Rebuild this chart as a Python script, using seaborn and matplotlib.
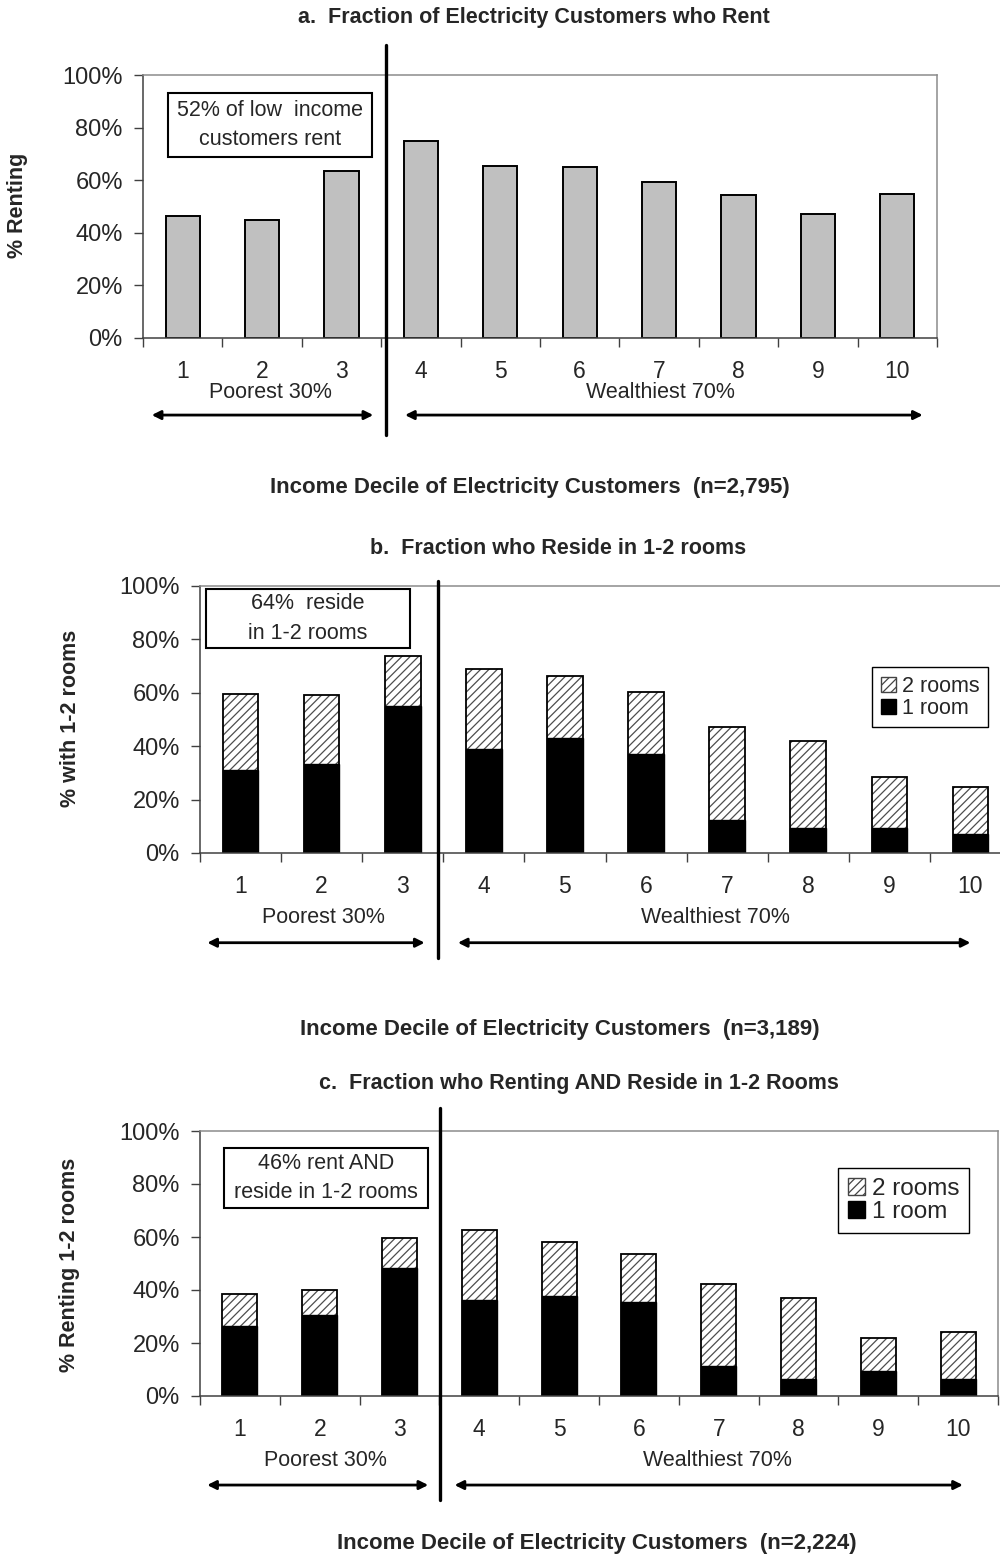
import numpy as np
import pandas as pd
import matplotlib
matplotlib.use("Agg")
import matplotlib.pyplot as plt
import seaborn as sns
from matplotlib.patches import Patch, Rectangle

# ---------------- data ----------------
deciles = ["1", "2", "3", "4", "5", "6", "7", "8", "9", "10"]
rent_pct = [46.4, 44.9, 63.4, 74.8, 65.5, 64.9, 59.4, 54.2, 47.3, 54.8]
rooms_one = [31.0, 33.2, 55.0, 39.1, 42.9, 36.9, 12.3, 9.2, 9.2, 7.1]
rooms_total = [59.7, 59.0, 73.9, 68.8, 66.4, 60.4, 47.1, 41.8, 28.5, 24.8]
rentrooms_one = [26.6, 30.4, 48.4, 36.4, 37.9, 35.6, 11.5, 6.3, 9.4, 6.3]
rentrooms_total = [38.5, 40.0, 59.5, 62.5, 58.1, 53.4, 42.3, 37.0, 21.8, 24.1]
ytick_vals = [0, 20, 40, 60, 80, 100]
ytick_labels = ["0%", "20%", "40%", "60%", "80%", "100%"]

titles = ["a.  Fraction of Electricity Customers who Rent",
          "b.  Fraction who Reside in 1-2 rooms",
          "c.  Fraction who Renting AND Reside in 1-2 Rooms"]
ylabels = ["% Renting", "% with 1-2 rooms", "% Renting 1-2 rooms"]
xlabels = ["Income Decile of Electricity Customers  (n=2,795)",
           "Income Decile of Electricity Customers  (n=3,189)",
           "Income Decile of Electricity Customers  (n=2,224)"]
notes = ["52% of low  income\ncustomers rent",
         "64%  reside\nin 1-2 rooms",
         "46% rent AND\nreside in 1-2 rooms"]
group_labels = ["Poorest 30%", "Wealthiest 70%"]
legend_labels = ["2 rooms", "1 room"]

# ---------------- style ----------------
sns.set_theme(style="white")
plt.rcParams["font.family"] = ["Liberation Sans", "DejaVu Sans"]
plt.rcParams["hatch.linewidth"] = 0.9

W, H = 1000, 1556
fig = plt.figure(figsize=(W / 100, H / 100), dpi=100)
fig.patch.set_facecolor("white")


def px_rect(l, t, r, b):
    return [l / W, 1 - b / H, (r - l) / W, (b - t) / H]


def fx(x):
    return x / W


def fy(y):
    return 1 - y / H


axes_px = [(143, 75, 937, 338), (200, 586, 1011, 853), (200, 1131, 998, 1396)]
axs = [fig.add_axes(px_rect(*p)) for p in axes_px]

df_a = pd.DataFrame({"decile": deciles, "pct": rent_pct})
df_b = pd.DataFrame({"decile": deciles, "one": rooms_one, "total": rooms_total})
df_c = pd.DataFrame({"decile": deciles, "one": rentrooms_one, "total": rentrooms_total})

# panel a
sns.barplot(data=df_a, x="decile", y="pct", ax=axs[0], color="#C0C0C0",
            saturation=1, edgecolor="black", linewidth=1.4, width=0.43,
            errorbar=None)

# panels b & c: stacked hatched + black
for ax, df, w in [(axs[1], df_b, 0.44), (axs[2], df_c, 0.44)]:
    sns.barplot(data=df, x="decile", y="total", ax=ax, color="white",
                saturation=1, edgecolor="#4d4d4d", linewidth=0, hatch="////",
                width=w, errorbar=None)
    sns.barplot(data=df, x="decile", y="total", ax=ax, color="black",
                fill=False, linewidth=1.3, width=w, errorbar=None)
    sns.barplot(data=df, x="decile", y="one", ax=ax, color="black",
                saturation=1, edgecolor="black", linewidth=1.0, width=w,
                errorbar=None)

# common axis formatting
for ax in axs:
    ax.set_xlim(-0.5, 9.5)
    ax.set_ylim(0, 100)
    ax.set_yticks(ytick_vals)
    ax.set_yticklabels(ytick_labels, fontsize=17)
    ax.set_xticks(range(10))
    ax.set_xticklabels(deciles, fontsize=16.5)
    ax.set_xticks(np.arange(-0.5, 10, 1), minor=True)
    ax.tick_params(axis="x", which="major", length=0, pad=16)
    ax.tick_params(axis="x", which="minor", length=6.5, width=1,
                   direction="out", color="#404040", bottom=True)
    ax.tick_params(axis="y", which="major", length=6.5, width=1,
                   direction="out", color="#404040", left=True, pad=8)
    ax.set_xlabel("")
    ax.set_ylabel("")
    for s in ["left", "bottom"]:
        ax.spines[s].set_color("#404040")
        ax.spines[s].set_linewidth(1.1)
    for s in ["top", "right"]:
        ax.spines[s].set_color("#8c8c8c")
        ax.spines[s].set_linewidth(1.1)
    ax.set_facecolor("white")

# dividers, group labels and arrows (category units)
vlines = [(2.56, -0.37, 1.114), (2.44, -0.395, 1.02), (2.51, -0.392, 1.087)]
grp_y = [-0.208, -0.24, -0.242]
arr_y = [-0.293, -0.336, -0.336]
grp_x = [(1.10, 6.02), (1.02, 5.86), (1.07, 5.98)]
arrows = [((-0.39, 2.40), (2.80, 9.32)),
          ((-0.41, 2.27), (2.68, 9.00)),
          ((-0.41, 2.36), (2.69, 9.06))]

for i, ax in enumerate(axs):
    tr = ax.get_xaxis_transform()
    xv, y0, y1 = vlines[i]
    ax.plot([xv, xv], [y0, y1], transform=tr, clip_on=False,
            color="black", lw=2.4, zorder=10)
    for gx, gl in zip(grp_x[i], group_labels):
        ax.text(gx, grp_y[i], gl, transform=tr, ha="center", va="center",
                fontsize=15.5)
    for (xa, xb) in arrows[i]:
        ax.annotate("", xy=(xb, arr_y[i]), xytext=(xa, arr_y[i]),
                    xycoords=tr, textcoords=tr, annotation_clip=False,
                    arrowprops=dict(arrowstyle="<|-|>", lw=2, color="black",
                                    mutation_scale=13, shrinkA=0, shrinkB=0))

# titles, x labels, y labels
title_pos = [(534, 18), (558, 548), (579, 1083)]
xlabel_pos = [(530, 488), (560, 1030), (597, 1544)]
ylabel_pos = [(18, 205), (70, 718), (70, 1265)]
for i in range(3):
    fig.text(fx(title_pos[i][0]), fy(title_pos[i][1]), titles[i],
             ha="center", va="center", fontsize=15.5, fontweight="bold")
    fig.text(fx(xlabel_pos[i][0]), fy(xlabel_pos[i][1]), xlabels[i],
             ha="center", va="center", fontsize=16, fontweight="bold")
    fig.text(fx(ylabel_pos[i][0]), fy(ylabel_pos[i][1]), ylabels[i],
             ha="center", va="center", rotation=90, fontsize=15.5,
             fontweight="bold")

# annotation boxes
boxes = [(168, 93, 372, 157), (206, 589, 410, 648), (224, 1148, 428, 1208)]
for (l, t, r, b), txt in zip(boxes, notes):
    fig.patches.append(Rectangle((fx(l), fy(b)), (r - l) / W, (b - t) / H,
                                 transform=fig.transFigure, fc="white",
                                 ec="black", lw=1.5, zorder=5))
    fig.text(fx((l + r) / 2), fy((t + b) / 2), txt, ha="center",
             va="center", fontsize=15.5, linespacing=1.55, zorder=6)

# legends
leg_handles = [Patch(facecolor="white", edgecolor="#444444", hatch="////"),
               Patch(facecolor="black", edgecolor="black")]
legend_specs = [(axs[1], 872, 667, 15.5), (axs[2], 838, 1168, 17.5)]
for ax, lx, ly, fs in legend_specs:
    leg = ax.legend(leg_handles, legend_labels, loc="upper left",
                    bbox_to_anchor=(fx(lx), fy(ly)),
                    bbox_transform=fig.transFigure, fontsize=fs,
                    frameon=True, fancybox=False, framealpha=1,
                    edgecolor="black", handlelength=0.7, handleheight=0.7,
                    handletextpad=0.3, labelspacing=0.05, borderpad=0.4,
                    borderaxespad=0)
    leg.get_frame().set_linewidth(1.0)

fig.savefig("out.png", dpi=100, facecolor="white")
